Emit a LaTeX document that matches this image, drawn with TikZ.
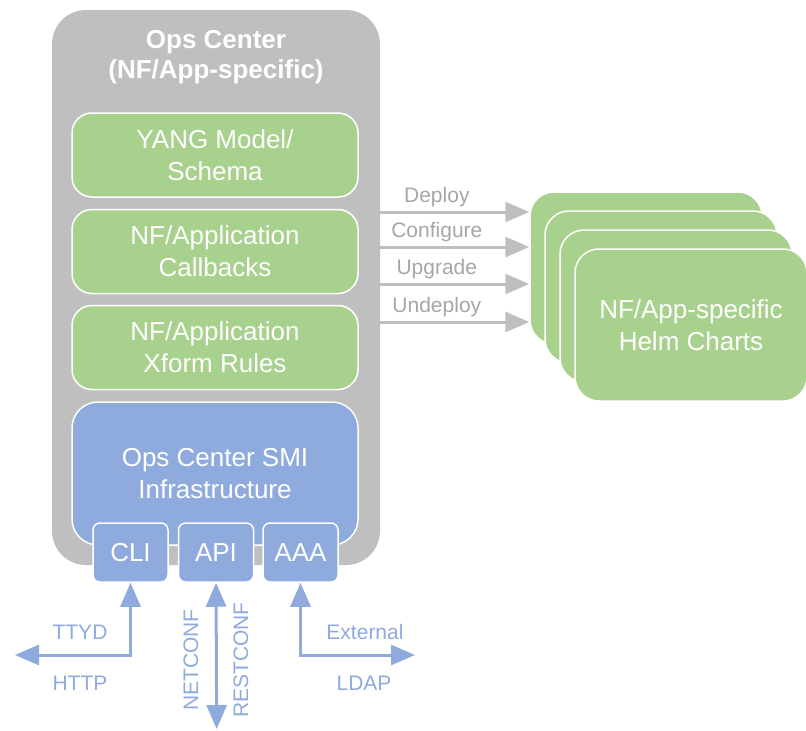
\documentclass[tikz,border=0pt]{standalone}
\usepackage{fontspec}
\setmainfont{Liberation Sans}
\usetikzlibrary{arrows.meta,positioning}
\definecolor{opsgray}{HTML}{BFBFBF}
\definecolor{nfgreen}{HTML}{A9D18E}
\definecolor{smiblue}{HTML}{8FAADC}
\definecolor{labelgray}{HTML}{A6A6A6}
\tikzset{
  every node/.style={
    font=\fontsize{26}{32}\selectfont,
    align=center
  },
  container/.style={
    shape=rectangle,
    rounded corners=34pt,
    fill=opsgray,
    minimum width=328pt,
    minimum height=555pt
  },
  heading/.style={
    text=white,
    font=\bfseries\fontsize{26}{30}\selectfont
  },
  module/.style={
    shape=rectangle,
    rounded corners=20pt,
    fill=nfgreen,
    draw=white,
    line width=1.5pt,
    text=white,
    minimum width=286pt,
    minimum height=84pt
  },
  infra/.style={
    module,
    rounded corners=26pt,
    fill=smiblue,
    minimum height=143pt
  },
  port/.style={
    shape=rectangle,
    rounded corners=7pt,
    fill=smiblue,
    draw=white,
    line width=1.5pt,
    text=white,
    minimum width=75pt,
    minimum height=59pt
  },
  chart/.style={
    shape=rectangle,
    rounded corners=24pt,
    fill=nfgreen,
    draw=white,
    line width=1.5pt,
    text=white,
    minimum width=232pt,
    minimum height=152pt
  },
  action/.style={
    draw=opsgray,
    line width=3pt,
    -{Triangle[length=24pt,width=20pt]}
  },
  action label/.style={
    font=\fontsize{21}{24}\selectfont,
    text=labelgray
  },
  access/.style={
    draw=smiblue,
    line width=3pt,
    {Triangle[length=24pt,width=20pt]}-{Triangle[length=24pt,width=20pt]}
  },
  access label/.style={
    font=\fontsize{21}{24}\selectfont,
    text=smiblue
  }
}

\begin{document}
\begin{tikzpicture}[x=1pt,y=-1pt]
\useasboundingbox (0,0) rectangle (806,731);

% ops center
\node [container] (opscenter) at (216,287.5) {};
\node [heading] (title) at (216,57) {Ops Center\\(NF/App-specific)};
\node [module] (yang) at (215,155) {YANG Model/\\Schema};
\node [module] (callbacks) at (215,251.5) {NF/Application\\Callbacks};
\node [module] (xform) at (215,347.5) {NF/Application\\Xform Rules};
\node [infra] (smi) at (215,473.5) {Ops Center SMI\\Infrastructure};
\node [port] (cli) at (130.5,552.5) {CLI};
\node [port] (api) at (216,552.5) {API};
\node [port] (aaa) at (300.5,552.5) {AAA};

% helm charts
\node [chart] (helm1) at (646,268) {};
\node [chart] (helm2) at ([shift={(15,19)}]helm1) {};
\node [chart] (helm3) at ([shift={(15,19)}]helm2) {};
\node [chart] (helm4) at ([shift={(15,19)}]helm3) {NF/App-specific\\Helm Charts};

% lifecycle actions
\foreach \y/\txt in {212/Deploy, 247/Configure, 284/Upgrade, 322/Undeploy}
  \draw [action] (opscenter.east |- 0,\y) -- node [action label, above, pos=0.38] {\txt} (helm1.west |- 0,\y);

% access
\coordinate (http) at (15,655);
\coordinate (netconf) at (216.7,729);
\coordinate (ldap) at (415,655);
\draw [access] (http) -| (cli.south);
\draw [access] (api.south) -- (netconf);
\draw [access] (aaa.south) |- (ldap);
\node [access label] (ttyd) at (80,632) {TTYD};
\node [access label] (httplabel) at (80,683) {HTTP};
\node [access label, rotate=90] (netconflabel) at (191,660) {NETCONF};
\node [access label, rotate=90] (restconflabel) at (241,660) {RESTCONF};
\node [access label] (external) at (365,632) {External};
\node [access label] (ldaplabel) at (364,683) {LDAP};

\end{tikzpicture}
\end{document}
